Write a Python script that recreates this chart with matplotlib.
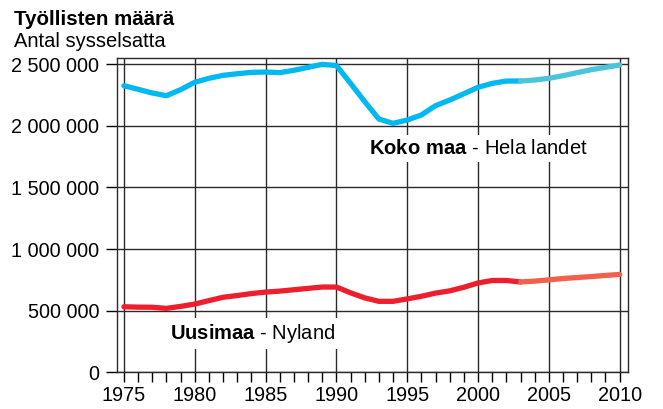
import matplotlib
matplotlib.use("Agg")
import matplotlib.pyplot as plt
from matplotlib.ticker import MultipleLocator, FuncFormatter

plt.rcParams["font.family"] = ["Liberation Sans", "DejaVu Sans"]
plt.rcParams["mathtext.fontset"] = "custom"
plt.rcParams["mathtext.rm"] = "Liberation Sans"
plt.rcParams["mathtext.bf"] = "Liberation Sans:bold"

# data (forecast from 2003 on)
years = list(range(1975, 2011))
koko_maa = [2324000, 2295000, 2265000, 2243000, 2292000, 2352000, 2384000, 2408000,
            2421000, 2432000, 2435000, 2430000, 2449000, 2473000, 2497000, 2488000,
            2343000, 2195000, 2054000, 2019000, 2046000, 2087000, 2162000, 2208000,
            2259000, 2311000, 2343000, 2362000, 2362000, 2370000, 2384000, 2405000,
            2430000, 2454000, 2473000, 2492000]
uusimaa = [532000, 529000, 528000, 519000, 535000, 554000, 582000, 609000,
           623000, 639000, 651000, 659000, 670000, 681000, 692000, 692000,
           645000, 604000, 576000, 576000, 596000, 617000, 643000, 661000,
           690000, 725000, 745000, 745000, 733000, 740000, 750000, 761000,
           769000, 777000, 786000, 794000]
forecast_start = 2003

fig = plt.figure(figsize=(6.63, 4.09), dpi=100)
ax = fig.add_axes([0.1769, 0.0895, 0.7699, 0.7694])

i = years.index(forecast_start)
lw = 3.8
ax.plot(years[:i + 1], koko_maa[:i + 1], color="#00b9f0", lw=lw, solid_capstyle="round", zorder=3)
ax.plot(years[i:], koko_maa[i:], color="#4cc5dc", lw=lw, solid_capstyle="round", zorder=3)
ax.plot(years[:i + 1], uusimaa[:i + 1], color="#ee1f2d", lw=lw, solid_capstyle="round", zorder=3)
ax.plot(years[i:], uusimaa[i:], color="#f0604c", lw=lw, solid_capstyle="round", zorder=3)

ax.set_xlim(1974.53, 2010.57)
ax.set_ylim(0, 2551000)
ax.xaxis.set_major_locator(MultipleLocator(5))
ax.xaxis.set_minor_locator(MultipleLocator(1))
ax.yaxis.set_major_locator(MultipleLocator(500000))
ax.yaxis.set_major_formatter(FuncFormatter(lambda v, p: f"{int(v):,}".replace(",", " ")))

ax.grid(True, which="major", color="#2a2a2a", lw=1.0)
ax.tick_params(axis="y", length=8, width=1.0, pad=5, labelsize=14.3)
ax.tick_params(axis="x", which="both", length=7, width=1.0, pad=3, labelsize=14.3)
for s in ax.spines.values():
    s.set_linewidth(1.0)
    s.set_color("#2a2a2a")

box = dict(facecolor="white", edgecolor="none", boxstyle="square,pad=0.2")
ax.text(1992.3, 1773000, r"$\bf{Koko\ maa}$ - Hela landet", fontsize=14.5,
        va="baseline", ha="left", bbox=box, zorder=4)
ax.text(1978.27, 268000, r"$\bf{Uusimaa}$ - Nyland", fontsize=14.5,
        va="baseline", ha="left", bbox=box, zorder=4)

fig.text(0.021, 0.9389, "Työllisten määrä", fontsize=14.8, fontweight="bold", va="baseline")
fig.text(0.021, 0.885, "Antal sysselsatta", fontsize=14.5, va="baseline")

fig.savefig("out.png", dpi=100)
